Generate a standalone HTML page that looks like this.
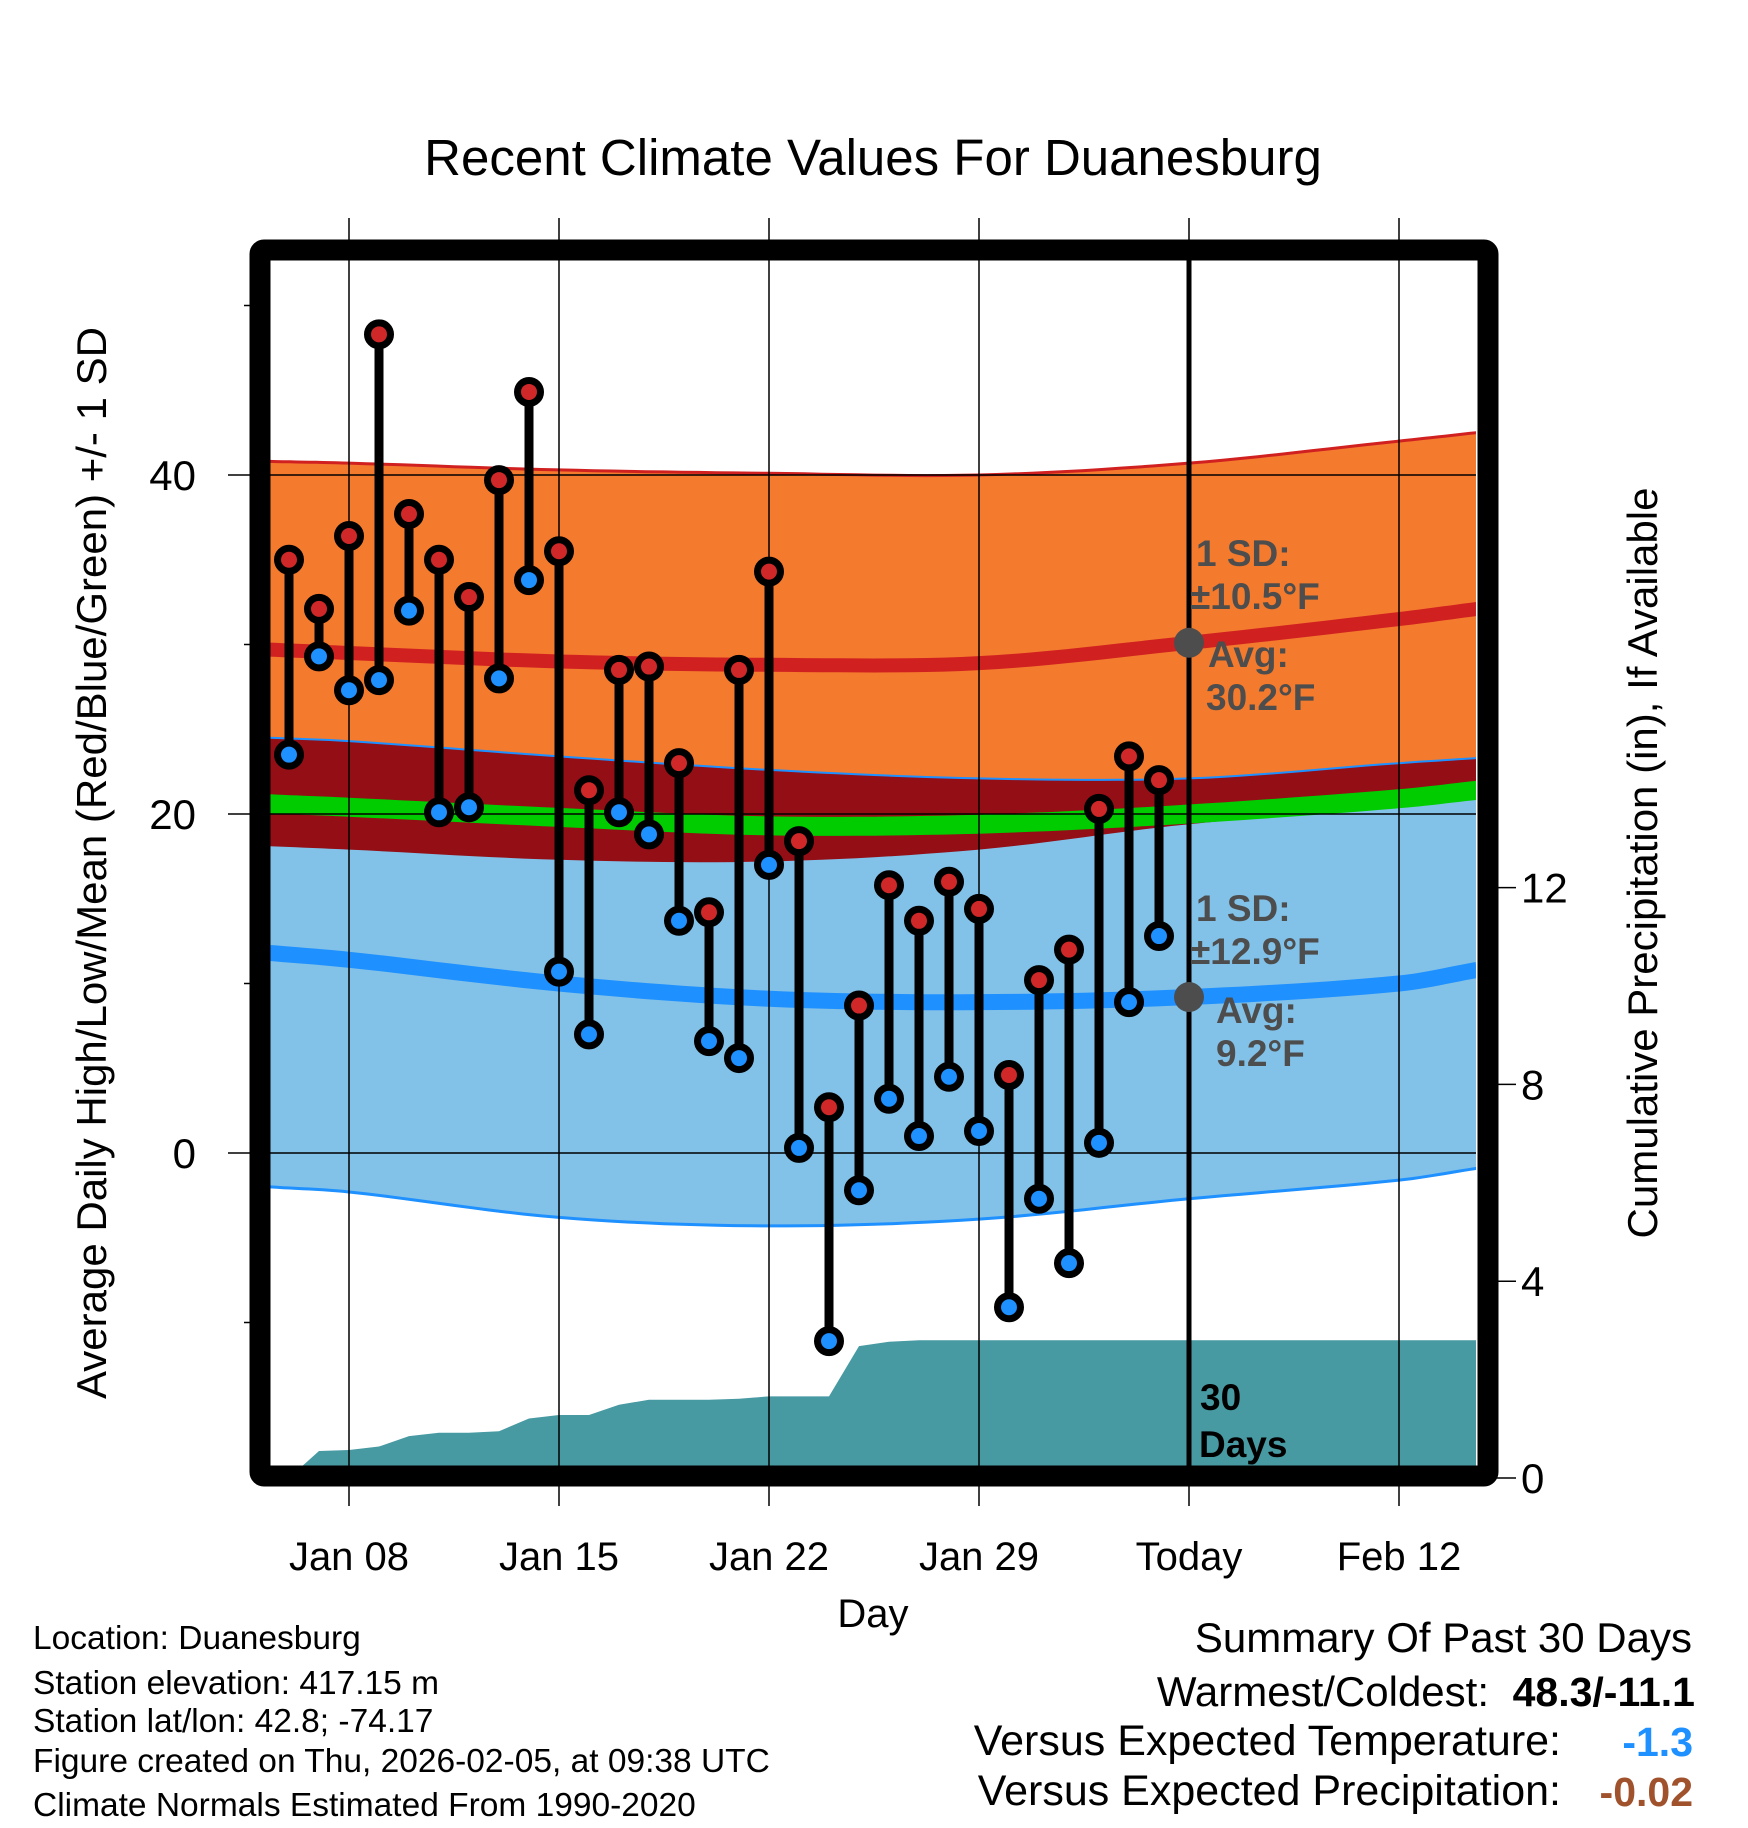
<!DOCTYPE html>
<html><head><meta charset="utf-8"><style>
html,body{margin:0;padding:0;background:#fff;}
svg{display:block;font-family:"Liberation Sans",Arial,sans-serif;}
</style></head><body>
<svg id="chart" width="1748" height="1828" viewBox="0 0 1748 1828" xmlns="http://www.w3.org/2000/svg">
<defs><clipPath id="plotclip"><rect x="270" y="260" width="1206" height="1206"/></clipPath></defs>
<rect x="0" y="0" width="1748" height="1828" fill="#fff"/>
<text x="873" y="175" font-size="51" text-anchor="middle">Recent Climate Values For Duanesburg</text>
<g id="plot" clip-path="url(#plotclip)"></g>
<text x="1196" y="566" font-size="37" font-weight="bold" fill="#4d4d4d">1 SD:</text>
<text x="1190" y="609" font-size="37" font-weight="bold" fill="#4d4d4d">±10.5°F</text>
<text x="1208" y="667" font-size="37" font-weight="bold" fill="#4d4d4d">Avg:</text>
<text x="1206" y="710" font-size="37" font-weight="bold" fill="#4d4d4d">30.2°F</text>
<text x="1196" y="921" font-size="37" font-weight="bold" fill="#4d4d4d">1 SD:</text>
<text x="1190" y="964" font-size="37" font-weight="bold" fill="#4d4d4d">±12.9°F</text>
<text x="1216" y="1023" font-size="37" font-weight="bold" fill="#4d4d4d">Avg:</text>
<text x="1216" y="1066" font-size="37" font-weight="bold" fill="#4d4d4d">9.2°F</text>
<text x="1200" y="1410" font-size="37" font-weight="bold">30</text>
<text x="1199" y="1457" font-size="37" font-weight="bold">Days</text>
<text transform="translate(106,863) rotate(-90)" font-size="42" text-anchor="middle">Average Daily High/Low/Mean (Red/Blue/Green) +/- 1 SD</text>
<text transform="translate(1657,863) rotate(-90)" font-size="42" text-anchor="middle">Cumulative Precipitation (in), If Available</text>
<text x="873" y="1627" font-size="40" text-anchor="middle">Day</text>
<text x="33" y="1649" font-size="33.5">Location: Duanesburg</text>
<text x="33" y="1694" font-size="33.5">Station elevation: 417.15 m</text>
<text x="33" y="1732" font-size="33.5">Station lat/lon: 42.8; -74.17</text>
<text x="33" y="1772" font-size="33.5">Figure created on Thu, 2026-02-05, at 09:38 UTC</text>
<text x="33" y="1816" font-size="33.5">Climate Normals Estimated From 1990-2020</text>
<text x="1692" y="1652" font-size="42" text-anchor="end">Summary Of Past 30 Days</text>
<text x="1489" y="1706" font-size="42" text-anchor="end">Warmest/Coldest:</text>
<text x="1695" y="1706" font-size="41" text-anchor="end" font-weight="bold">48.3/-11.1</text>
<text x="1561" y="1755" font-size="43" text-anchor="end">Versus Expected Temperature:</text>
<text x="1693" y="1756" font-size="41" text-anchor="end" font-weight="bold" fill="#1e90ff">-1.3</text>
<text x="1561" y="1805" font-size="43" text-anchor="end">Versus Expected Precipitation:</text>
<text x="1693" y="1806" font-size="41" text-anchor="end" font-weight="bold" fill="#a0522d">-0.02</text>
</svg>
<script>
// Daily observations, Jan 6 .. Feb 4
const highs = [35.0,32.1,36.4,48.3,37.7,35.0,32.8,39.7,44.9,35.5,21.4,28.5,28.7,23.0,14.2,28.5,34.3,18.4,2.7,8.7,15.8,13.7,16.0,14.4,4.6,10.2,12.0,20.3,23.4,22.0];
const lows = [23.5,29.3,27.3,27.9,32.0,20.1,20.4,28.0,33.8,10.7,7.0,20.1,18.8,13.7,6.6,5.6,17.0,0.3,-11.1,-2.2,3.2,1.0,4.5,1.3,-9.1,-2.7,-6.5,0.6,8.9,12.8];
const precip = [0.0,0.55,0.57,0.64,0.85,0.92,0.92,0.95,1.21,1.28,1.28,1.49,1.59,1.59,1.59,1.61,1.66,1.66,1.66,2.68,2.77,2.80,2.80,2.80,2.80,2.80,2.80,2.80,2.80,2.80];
// Normals sampled at day offsets (0 = Jan 6)
const normDays = [-0.63,2,9,16,23,30,37,39.6];
const hiUpper = [40.8,40.7,40.3,40.1,40.0,40.7,42.0,42.5];
const hiAvg = [29.7,29.5,29.0,28.8,28.9,30.1,31.5,32.1];
const hiLower = [18.1,17.9,17.3,17.2,17.9,19.4,20.4,20.9];
const loUpper = [24.5,24.3,23.4,22.6,22.1,22.1,23.0,23.3];
const loAvg = [11.8,11.4,10.0,9.1,8.9,9.2,10.0,10.8];
const loLower = [-2.0,-2.3,-3.8,-4.3,-3.9,-2.7,-1.6,-0.9];
const meanT = [20.6,20.4,19.8,19.3,19.4,20.0,20.9,21.4];
const xTickDays = [2,9,16,23,30,37];
const xTickLabels = ["Jan 08","Jan 15","Jan 22","Jan 29","Today","Feb 12"];
const yTicks = [0,20,40];
const yMinor = [-10,10,30,50];
const pTicks = [0,4,8,12];

const NS="http://www.w3.org/2000/svg";
const X = d => 289 + 30*d;
const Y = t => 1153 - 16.95*t;
const YP = p => 1478 - 49.2*p;
function mk(tag, attrs, parent){const e=document.createElementNS(NS,tag);for(const k in attrs)e.setAttribute(k,attrs[k]);parent.appendChild(e);return e;}
const plot=document.getElementById('plot');
const svg=document.getElementById('chart');
const staticTexts=Array.from(svg.querySelectorAll(':scope > text'));

function curve(vals){
  const n=normDays.length, m=[];
  for(let i=0;i<n;i++){
    const a=Math.max(0,i-1), b=Math.min(n-1,i+1);
    m.push((vals[b]-vals[a])/(normDays[b]-normDays[a]));
  }
  const pts=[];
  for(let i=0;i<n-1;i++){
    const h=normDays[i+1]-normDays[i];
    for(let s=0;s<12;s++){const t=s/12,t2=t*t,t3=t2*t;
      const v=(2*t3-3*t2+1)*vals[i]+(t3-2*t2+t)*h*m[i]+(-2*t3+3*t2)*vals[i+1]+(t3-t2)*h*m[i+1];
      pts.push([X(normDays[i]+h*t),Y(v)]);}
  }
  pts.push([X(normDays[n-1]),Y(vals[n-1])]);
  return pts;
}
function band(a,b){const p=curve(a),q=curve(b).reverse();return 'M'+p.concat(q).map(v=>v[0].toFixed(1)+','+v[1].toFixed(1)).join('L')+'Z';}
function line(a){return 'M'+curve(a).map(v=>v[0].toFixed(1)+','+v[1].toFixed(1)).join('L');}

let e;
e=mk('path',{d:band(hiUpper,hiLower),fill:'#f47a2e'},plot);


e=mk('path',{d:line(hiUpper),fill:'none',stroke:'#d02020','stroke-width':3},plot);


e=mk('path',{d:band(loUpper,loLower),fill:'#82c1e8'},plot);


e=mk('path',{d:band(loUpper,hiLower),fill:'#930e15'},plot);


e=mk('path',{d:line(loUpper),fill:'none',stroke:'#1e90ff','stroke-width':2},plot);


e=mk('path',{d:line(loLower),fill:'none',stroke:'#1e90ff','stroke-width':3},plot);


e=mk('path',{d:line(meanT),fill:'none',stroke:'#00cc00','stroke-width':19},plot);


e=mk('path',{d:line(loAvg),fill:'none',stroke:'#1e90ff','stroke-width':16},plot);


e=mk('path',{d:line(hiAvg),fill:'none',stroke:'#d02020','stroke-width':14},plot);



let pd='M'+X(0)+','+YP(0);
precip.forEach((p,i)=>{pd+='L'+X(i)+','+YP(p);});
pd+='L'+X(40)+','+YP(precip[precip.length-1])+'L'+X(40)+','+YP(0)+'Z';
e=mk('path',{d:pd,fill:'#4799a2'},plot);



yTicks.forEach(t=>{
  e=mk('line',{x1:228,x2:1476,y1:Y(t),y2:Y(t),stroke:'#000','stroke-width':1.5},svg);
  
  
  e=mk('text',{x:196,y:Y(t)+15,'font-size':42,'text-anchor':'end'},svg);
  e.textContent=t;
  
  
});
yMinor.forEach(t=>{
  e=mk('line',{x1:244,x2:262,y1:Y(t),y2:Y(t),stroke:'#000','stroke-width':1.5},svg);
  
  
});
pTicks.forEach(p=>{
  e=mk('line',{x1:1485,x2:1516,y1:YP(p),y2:YP(p),stroke:'#000','stroke-width':1.5},svg);
  
  
  e=mk('text',{x:1521,y:YP(p)+15,'font-size':42},svg);
  e.textContent=p;
  
  
});
xTickDays.forEach((d,i)=>{
  e=mk('line',{x1:X(d),x2:X(d),y1:218,y2:1506,stroke:'#000','stroke-width':1.5},svg);
  
  
  e=mk('text',{x:X(d),y:1570,'font-size':40,'text-anchor':'middle'},svg);
  e.textContent=xTickLabels[i];
  
  
});
e=mk('line',{x1:X(30),x2:X(30),y1:260,y2:1466,stroke:'#000','stroke-width':5},svg);


e=mk('circle',{cx:X(30),cy:Y(hiAvg[5]),r:15,fill:'#4d4d4d'},svg);


e=mk('circle',{cx:X(30),cy:Y(loAvg[5]),r:15,fill:'#4d4d4d'},svg);



highs.forEach((h,i)=>{
  e=mk('line',{x1:X(i),x2:X(i),y1:Y(h),y2:Y(lows[i]),stroke:'#000','stroke-width':9},svg);
  
  
});
highs.forEach((h,i)=>{
  e=mk('circle',{cx:X(i),cy:Y(h),r:11.5,fill:'#d02828',stroke:'#000','stroke-width':7},svg);
  
  
  e=mk('circle',{cx:X(i),cy:Y(lows[i]),r:11.5,fill:'#1e90ff',stroke:'#000','stroke-width':7},svg);
  
  
});
e=mk('rect',{x:260,y:250,width:1228,height:1226,fill:'none',stroke:'#000','stroke-width':21,rx:4},svg);


staticTexts.forEach(t=>svg.appendChild(t));
</script>
</body></html>
